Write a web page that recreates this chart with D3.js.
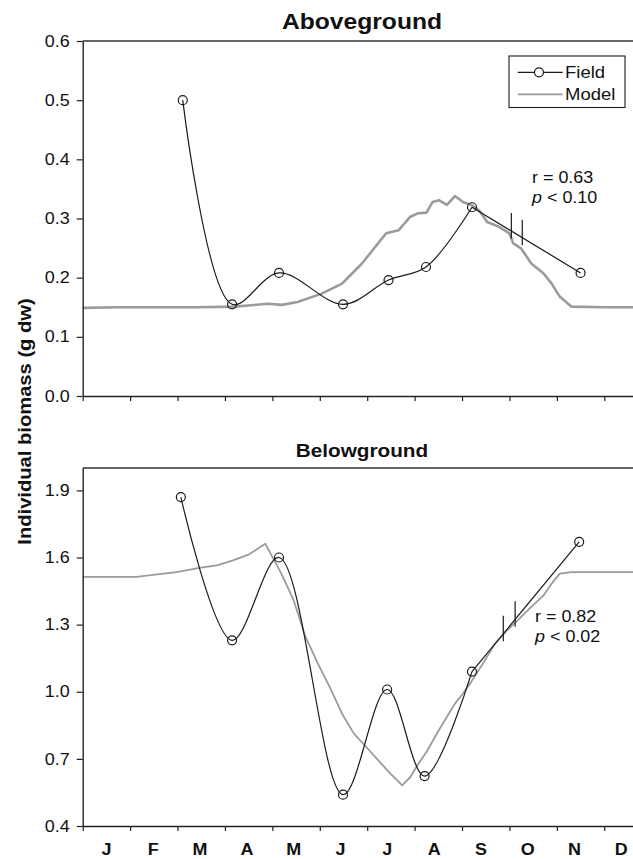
<!DOCTYPE html>
<html>
<head>
<meta charset="utf-8">
<script src="https://cdn.jsdelivr.net/npm/d3@7"></script>
<style>
  body { margin: 0; background: #fff; }
  svg { display: block; font-family: "Liberation Sans", Arial, sans-serif; }
</style>
</head>
<body>
<svg id="chart" width="633" height="859"></svg>
<script>
// month labels along the bottom axis
const monthLabels = ["J", "F", "M", "A", "M", "J", "J", "A", "S", "O", "N", "D"];

// field samples (month as fraction of year, 0 = 1 Jan)
const aboveFieldMonth = [2.11, 3.15, 4.14, 5.49, 6.45, 7.24, 8.21, 10.50];
const aboveField = [0.50, 0.155, 0.208, 0.155, 0.196, 0.218, 0.319, 0.208];
const belowFieldMonth = [2.07, 3.15, 4.14, 5.49, 6.42, 7.21, 8.21, 10.47];
const belowField = [1.87, 1.23, 1.60, 0.54, 1.01, 0.623, 1.09, 1.67];

// model output
const aboveModelMonth = [0, 0.8, 1.6, 2.4, 3.2, 3.5, 3.9, 4.2, 4.53, 5.04, 5.47, 5.89, 6.40, 6.66, 6.91, 7.08, 7.25, 7.38, 7.51, 7.68, 7.85, 8.02, 8.19, 8.36, 8.53, 8.78, 9.00, 9.08, 9.25, 9.46, 9.72, 9.89, 10.06, 10.31, 11, 12];
const aboveModel = [0.149, 0.150, 0.150, 0.150, 0.151, 0.153, 0.156, 0.154, 0.159, 0.173, 0.190, 0.224, 0.275, 0.280, 0.303, 0.309, 0.310, 0.328, 0.331, 0.323, 0.338, 0.328, 0.323, 0.314, 0.294, 0.286, 0.275, 0.258, 0.249, 0.224, 0.207, 0.190, 0.168, 0.151, 0.150, 0.150];
const belowModelMonth = [0, 1.13, 1.98, 2.49, 2.83, 3.17, 3.51, 3.85, 4.02, 4.19, 4.45, 4.70, 4.96, 5.21, 5.47, 5.72, 5.98, 6.23, 6.49, 6.74, 6.91, 7.08, 7.25, 7.51, 7.68, 7.85, 8.02, 8.19, 8.44, 8.70, 8.95, 9.21, 9.46, 9.72, 9.89, 10.06, 10.31, 12];
const belowModel = [1.513, 1.513, 1.535, 1.555, 1.565, 1.587, 1.614, 1.662, 1.595, 1.528, 1.408, 1.245, 1.126, 1.021, 0.902, 0.813, 0.753, 0.694, 0.634, 0.582, 0.619, 0.679, 0.731, 0.828, 0.887, 0.947, 0.992, 1.043, 1.126, 1.215, 1.274, 1.327, 1.379, 1.431, 1.483, 1.528, 1.535, 1.535];

// axis-break marks on the last field segment
const aboveBreaks = [9.04, 9.27];
const belowBreaks = [8.87, 9.12];

const aboveTicks = [0.0, 0.1, 0.2, 0.3, 0.4, 0.5, 0.6];
const belowTicks = [0.4, 0.7, 1.0, 1.3, 1.6, 1.9];

const aboveStats = ["r = 0.63", "0.10"];
const belowStats = ["r = 0.82", "0.02"];

const svg = d3.select("#chart");
const STRETCH = 1.12;
const ink = "#1a1a1a";

const x = d3.scaleLinear().domain([0, 12]).range([82.7, 651.7]);

const panels = [
  {
    title: "Aboveground", titleY: 29.3, titleSize: 22,
    domain: [0, 0.6], range: [396, 41], ticks: aboveTicks,
    fieldMonth: aboveFieldMonth, field: aboveField,
    modelMonth: aboveModelMonth, model: aboveModel, modelWidth: 2.6,
    breaks: aboveBreaks, stats: aboveStats, statsX: 532, statsY: 182.5,
    legend: true
  },
  {
    title: "Belowground", titleY: 456.7, titleSize: 18.5,
    domain: [0.4, 2.0], range: [826, 468], ticks: belowTicks,
    fieldMonth: belowFieldMonth, field: belowField,
    modelMonth: belowModelMonth, model: belowModel, modelWidth: 1.8,
    breaks: belowBreaks, stats: belowStats, statsX: 535, statsY: 621.7,
    legend: false
  }
];

function drawPanel(p) {
  const y = d3.scaleLinear().domain(p.domain).range(p.range);
  const g = svg.append("g");

  // model trace first so field marks sit on top
  const modelLine = d3.line().x(d => x(d[0])).y(d => y(d[1]));
  g.append("path")
    .datum(d3.zip(p.modelMonth, p.model))
    .attr("d", modelLine)
    .attr("fill", "none")
    .attr("stroke", "#9b9b9b")
    .attr("stroke-width", p.modelWidth)
    .attr("stroke-linejoin", "round");

  const pts = d3.zip(p.fieldMonth, p.field);
  const n = pts.length;

  // smoothed field line up to the late-summer sample
  const smooth = d3.line().x(d => x(d[0])).y(d => y(d[1])).curve(d3.curveCatmullRom.alpha(0.5));
  g.append("path")
    .datum(pts.slice(0, n - 1))
    .attr("d", smooth)
    .attr("fill", "none")
    .attr("stroke", ink)
    .attr("stroke-width", 1.2);

  // straight segment across the sampling gap
  const straight = d3.line().x(d => x(d[0])).y(d => y(d[1]));
  g.append("path")
    .datum(pts.slice(n - 2))
    .attr("d", straight)
    .attr("fill", "none")
    .attr("stroke", ink)
    .attr("stroke-width", 1.2);

  // break marks
  const seg = d3.scaleLinear().domain([pts[n - 2][0], pts[n - 1][0]]).range([pts[n - 2][1], pts[n - 1][1]]);
  g.selectAll(".brk")
    .data(p.breaks)
    .join("line")
    .attr("x1", d => x(d)).attr("x2", d => x(d))
    .attr("y1", d => y(seg(d)) - 18)
    .attr("y2", d => y(seg(d)) + 7.5)
    .attr("stroke", ink)
    .attr("stroke-width", 1.2);

  g.selectAll(".pt")
    .data(pts)
    .join("circle")
    .attr("cx", d => x(d[0]))
    .attr("cy", d => y(d[1]))
    .attr("r", 4.5)
    .attr("fill", "none")
    .attr("stroke", ink)
    .attr("stroke-width", 1.2);

  // frame: top border + right border (off-image)
  g.append("path")
    .attr("d", `M${x(0)},${p.range[1]}H${x(12)}V${p.range[0]}`)
    .attr("fill", "none")
    .attr("stroke", "#333")
    .attr("stroke-width", 1.3);

  const yAxis = g.append("g")
    .attr("transform", `translate(${x(0)},0)`)
    .call(d3.axisLeft(y).tickValues(p.ticks).tickSize(6).tickSizeOuter(0).tickPadding(7).tickFormat(d3.format(".1f")));
  const xAxis = g.append("g")
    .attr("transform", `translate(0,${p.range[0]})`)
    .call(d3.axisBottom(x).tickValues(d3.range(0, 13)).tickSize(5).tickSizeOuter(0).tickFormat(""));
  [yAxis, xAxis].forEach(a => {
    a.select(".domain").attr("stroke", "#222").attr("stroke-width", 1.4);
    a.selectAll(".tick line").attr("stroke", "#222").attr("stroke-width", 1.2);
    a.selectAll("text").attr("font-size", 16).attr("fill", "#111")
      .attr("font-family", "'Liberation Sans', Arial, sans-serif");
  });

  g.append("text")
    .attr("class", "st")
    .attr("x", 362).attr("y", p.titleY)
    .attr("text-anchor", "middle")
    .attr("font-size", p.titleSize)
    .attr("font-weight", "bold")
    .text(p.title);

  // correlation note
  g.append("text")
    .attr("class", "st")
    .attr("x", p.statsX).attr("y", p.statsY)
    .attr("font-size", 16)
    .text(p.stats[0]);
  const pt = g.append("text")
    .attr("x", p.statsX).attr("y", p.statsY + 20.5)
    .attr("font-size", 16);
  pt.append("tspan").attr("font-style", "italic").text("p");
  pt.append("tspan").text(" < " + p.stats[1]);
  pt.attr("class", "st");

  if (p.legend) {
    const lg = g.append("g");
    lg.append("rect")
      .attr("x", 509).attr("y", 56).attr("width", 116).attr("height", 51.5)
      .attr("fill", "#fff").attr("stroke", ink).attr("stroke-width", 1.1);
    lg.append("line").attr("x1", 517.7).attr("x2", 562.7).attr("y1", 72.3).attr("y2", 72.3)
      .attr("stroke", ink).attr("stroke-width", 1.2);
    lg.append("circle").attr("cx", 539).attr("cy", 72.3).attr("r", 4.5)
      .attr("fill", "#fff").attr("stroke", ink).attr("stroke-width", 1.2);
    lg.append("line").attr("x1", 517.7).attr("x2", 562.7).attr("y1", 94.3).attr("y2", 94.3)
      .attr("stroke", "#9b9b9b").attr("stroke-width", 1.8);
    lg.append("text").attr("class", "st").attr("x", 565).attr("y", 78.3).attr("font-size", 16.5).text("Field");
    lg.append("text").attr("class", "st").attr("x", 565).attr("y", 99.8).attr("font-size", 16.5).text("Model");
  }
}

panels.forEach(drawPanel);

// month letters under the lower panel
const mx = d3.scalePoint().domain(d3.range(12)).range([106.5, 621.3]);
svg.append("g").selectAll("text")
  .data(monthLabels)
  .join("text")
  .attr("class", "st")
  .attr("x", (d, i) => mx(i))
  .attr("y", 855)
  .attr("text-anchor", "middle")
  .attr("font-size", 16)
  .attr("font-weight", "bold")
  .text(d => d);

svg.append("text")
  .attr("class", "st")
  .attr("transform", "translate(31,421.5) rotate(-90)")
  .attr("text-anchor", "middle")
  .attr("font-size", 18)
  .attr("font-weight", "bold")
  .text("Individual biomass (g dw)");

// the source figure is set slightly wide; stretch glyphs to match
svg.selectAll("text").each(function () {
  const L = this.getComputedTextLength();
  if (L > 0) d3.select(this).attr("textLength", L * STRETCH).attr("lengthAdjust", "spacingAndGlyphs");
});
svg.selectAll("text").attr("fill", "#111");
</script>
</body>
</html>
